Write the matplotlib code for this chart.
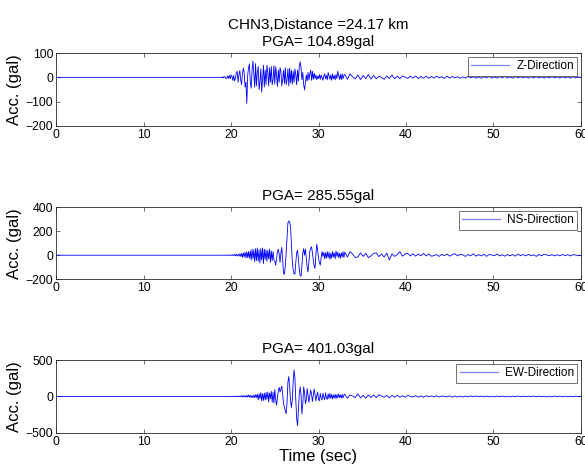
import numpy as np
import matplotlib
matplotlib.use("Agg")
import matplotlib.pyplot as plt
from matplotlib.lines import Line2D

plt.rcParams['font.family'] = ['Liberation Sans', 'DejaVu Sans']

# station info
station = "CHN3"
distance_km = 24.17
pga = [104.89, 285.55, 401.03]
labels = ["Z-Direction", "NS-Direction", "EW-Direction"]
yticks = [[-200, -100, 0, 100], [-200, 0, 200, 400], [-500, 0, 500]]
ylims = [(-200, 100), (-200, 400), (-500, 500)]

# sampling of the digitised records
t_start = 18.0      # first sample of the strong part
dt_main = 0.1       # step over 18.0 - 32.9 s
t_tail = 33.0       # first sample of the coda
dt_tail = 0.3       # step over 33.0 - 59.7 s

# Z component (gal)
z_main = [
    0, 0, 0, 0, 0, 0, 0, 0, 1, -1,
    2, -3, 4, 2, -5, -3, 6, -4, 8, -6,
    10, 4, -12, 8, -15, -5, 18, 25, -20, 10,
    28, -10, -30, 15, 38, 20, -40, -20, -107, 10,
    40, 55, -20, -45, 30, 67, 10, -40, 57, -35,
    20, 45, -50, -20, 35, -60, -10, 50, -40, 30,
    -30, 50, 20, -35, 40, -20, 45, -30, -10, 48,
    -28, 44, 10, -38, 30, -20, 40, 25, -35, -10,
    30, -25, 40, -30, -10, 35, -35, 38, -22, 30,
    -28, 25, -20, 35, 10, -30, 30, -15, 45, 64,
    40, -10, 20, -30, -52, -20, 10, -15, 20, -10,
    15, 30, -12, 25, -8, 18, -5, 10, -10, 5,
    -5, 12, -8, 10, 0, -12, 6, 15, -6, 8,
    -10, 20, 5, -8, 10, -12, 14, -6, 8, -10,
    12, -5, 25, 10, -8, 12, -10, 15, -6, 8,
]
z_tail = [
    12, -8, 15, 2, -6, 10, -9, 8, -5, 12,
    -7, 8, -6, 5, 0, -8, 6, -4, 10, -6,
    5, -5, 6, 1, -4, 5, -3, 6, -5, 4,
    -3, 5, -4, 4, -3, 5, -2, 3, -4, 5,
    -3, 4, -2, 3, -4, 2, -3, 4, -2, 3,
    -3, 2, -4, 3, -2, 4, -3, 2, -3, 3,
    -2, 4, -3, 2, -3, 3, -2, 3, -2, 2,
    -3, 3, -2, 3, -2, 2, -3, 2, -2, 3,
    -2, 2, -3, 3, -2, 2, -3, 3, -2, 2,
]

# NS component (gal)
ns_main = [
    0, 0, 0, 0, 0, 0, 0, 0, 0, 0,
    0, 1, -1, 1, -1, 2, -2, 1, -2, 2,
    3, -4, 5, -3, 6, -5, 8, -6, 7, -8,
    12, -10, 15, -18, 20, -15, 25, -22, 28, -20,
    30, -25, 35, -40, 50, -30, 45, -55, 55, -45,
    60, -50, 45, -65, 55, -40, 60, -70, 50, -35,
    45, -50, 40, -30, 50, -60, 35, -45, 30, -40,
    -50, -83, -30, 30, 50, 10, -60, 20, 65, -40,
    -150, -160, -90, 20, 150, 270, 286, 275, 240, 100,
    -50, -120, -155, -158, -60, 20, 42, -30, -120, -170,
    -175, -90, 20, 55, 0, 50, -30, -100, -140, -50,
    30, 60, 70, 20, -40, -90, -110, 10, 92, 40,
    -30, -60, -83, -20, 30, -10, 25, -30, 20, -25,
    30, -20, 25, -35, 15, -25, 30, -15, 20, -30,
    35, -10, 25, -20, 15, -25, 20, -15, 30, -20,
]
ns_tail = [
    25, -15, 30, 10, -20, -15, 20, -10, 15, -20,
    -5, 15, 20, -12, 10, -15, 18, -40, 12, -10,
    5, 30, -8, 10, 15, -6, 12, -8, 10, -5,
    15, -5, 10, -8, -4, 6, -10, 8, -5, 10,
    -8, 6, 12, -6, 8, 3, -10, 6, -5, 12,
    -8, 5, -6, 8, -10, 6, 2, -5, 10, -6,
    4, -8, 6, -5, 5, -8, 10, -4, 6, -6,
    8, -5, 4, -10, 6, -5, 8, 2, -4, 5,
    -6, 4, -5, 7, -4, 5, -6, 4, 2, -5,
]

# EW component (gal)
ew_main = [
    0, 0, 0, 0, 0, 0, 0, 0, 0, 0,
    0, 1, -1, 1, -1, 1, -1, 2, -1, 1,
    2, -3, 3, -2, 4, -3, 5, -4, 3, -5,
    8, -5, 10, -8, 12, -6, 10, -12, 15, -8,
    20, -10, 15, -18, 12, -15, 18, -20, 25, -15,
    30, -45, 35, -30, 50, -60, 40, -55, 45, -50,
    55, -40, 60, -75, 45, -30, 70, -80, 60, -90,
    95, -40, -120, -20, 80, 125, 60, 100, 140, 30,
    -100, -146, -200, -237, -80, 200, 274, 120, -60, -150,
    -40, 200, 365, 250, -50, -300, -400, -200, 40, 130,
    20, -240, -100, 130, 60, -100, -40, 110, 20, -80,
    10, 90, 30, -70, 20, 100, 30, -60, 10, 60,
    -40, -60, 40, -20, -50, 45, -10, -45, 50, -20,
    -40, 35, -30, 40, -25, 30, -35, 20, -20, 30,
    -30, 25, -20, 35, -15, 20, -25, 30, -20, 15,
]
ew_tail = [
    30, -25, 20, 5, -15, 35, -20, 15, -25, 20,
    -15, 20, -15, 25, 5, -10, 15, -20, 12, -10,
    15, -12, 10, -12, 15, 2, -8, 10, -10, 8,
    -12, 10, -6, 8, -6, 10, -8, 6, 2, -5,
    8, -10, 6, -8, 6, -8, 5, -6, 8, -5,
    6, -4, 5, -6, 5, -6, 4, -5, 6, -4,
    5, -6, 4, -5, 4, -5, 6, -4, 5, -3,
    4, -5, 6, -4, 5, -4, 3, -5, 4, -6,
    5, -3, 4, -5, 4, -5, 3, -4, 5, -3,
]


def build_record(main, tail):
    t = np.concatenate([[0.0],
                        t_start + dt_main * np.arange(len(main)),
                        t_tail + dt_tail * np.arange(len(tail)),
                        [60.0]])
    a = np.concatenate([[0.0], main, tail, [0.0]])
    return t, a


records = [build_record(z_main, z_tail),
           build_record(ns_main, ns_tail),
           build_record(ew_main, ew_tail)]

fig = plt.figure(figsize=(5.85, 4.70), dpi=100)
positions = [[0.096, 0.732, 0.897, 0.155],
             [0.096, 0.406, 0.897, 0.153],
             [0.096, 0.079, 0.897, 0.155]]

for i, (t, a) in enumerate(records):
    ax = fig.add_axes(positions[i])
    ax.plot(t, a, color='#0000ff', linewidth=0.6)
    ax.set_xlim(0, 60)
    ax.set_ylim(*ylims[i])
    ax.set_xticks([0, 10, 20, 30, 40, 50, 60])
    ax.set_yticks(yticks[i])
    ax.tick_params(direction='in', length=3, labelsize=8.8, top=True, right=True,
                   color='#555555', width=0.6, pad=2)
    for sp in ax.spines.values():
        sp.set_color('#262626')
        sp.set_linewidth(0.6)
    ax.set_ylabel("Acc. (gal)", fontsize=12, labelpad=3)
    if i == 0:
        ax.set_title(f"{station},Distance ={distance_km:.2f} km\nPGA= {pga[i]:.2f}gal",
                     fontsize=11, pad=5, linespacing=1.3)
    else:
        ax.set_title(f"PGA= {pga[i]:.2f}gal", fontsize=11, pad=5)
    handle = Line2D([], [], color='#7f7fff', linewidth=0.9)
    leg = ax.legend([handle], [labels[i]], loc='upper right', fontsize=8.5,
                    fancybox=False, handlelength=3.2, borderaxespad=0.3,
                    borderpad=0.3, handletextpad=0.6)
    leg.get_frame().set_edgecolor('#333333')
    leg.get_frame().set_linewidth(0.6)
    if i == 2:
        ax.set_xlabel("Time (sec)", fontsize=12, labelpad=1)

fig.savefig("out.png", dpi=100)
